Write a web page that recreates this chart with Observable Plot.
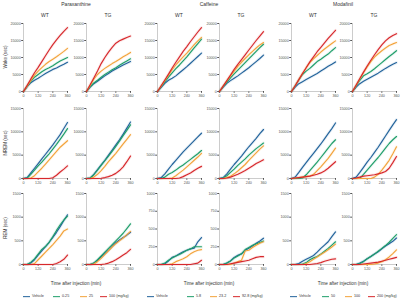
<!DOCTYPE html>
<html><head><meta charset="utf-8">
<script src="https://cdn.jsdelivr.net/npm/d3@7"></script>
<script src="https://cdn.jsdelivr.net/npm/@observablehq/plot@0.6"></script>
<style>
body{margin:0;background:#fff;}
#c{position:relative;width:400px;height:299px;overflow:hidden;font-family:"Liberation Sans",Arial,sans-serif;color:#333;background:#fff;}
.t{position:absolute;white-space:nowrap;transform:translate(-50%,-50%);line-height:1;}
.r{position:absolute;white-space:nowrap;transform:translate(-50%,-50%) rotate(-90deg);line-height:1;}
.lg{position:absolute;white-space:nowrap;display:flex;align-items:center;font-size:3.7px;line-height:1;color:#333;transform:translateY(-50%);}
.sw{display:inline-block;width:7px;height:1.3px;margin-right:2px;}
.p{position:absolute;}
</style></head><body><div id="c"></div>
<script>
const minutes = [0,30,60,90,120,150,180,210,240,270,300,330,360];
const drugs = ["Paraxanthine","Caffeine","Modafinil"];
const genotypes = ["WT","TG"];
const states = ["Wake (sec)","NREM (sec)","REM (sec)"];
const seriesColors = ["#22639b","#1f9e6a","#f3a33b","#d7282c"];
const paraDoses = ["Vehicle","0.25","25","100 (mg/kg)"];
const cafDoses = ["Vehicle","5.8","23.2","92.8 (mg/kg)"];
const modDoses = ["Vehicle","50","100","200 (mg/kg)"];
const xTicks = [0,120,240,360];
const yTicksWake = [0,5000,10000,15000,20000];
const yTicksNREM = [0,5000,10000,15000];
const yTicksREM = [0,500,1000,1500];
const yTicksREMcaf = [0,250,500,750,1000];
const xLabel = "Time after injection (min)";

// each array: [Vehicle, dose1, dose2, dose3], values in sec at each of minutes
const paraWakeWT = [
 [0,1400,2600,3300,3900,4600,5300,5900,6500,6900,7500,8000,8600],
 [0,1500,3000,4200,5000,5800,6500,7000,7600,8300,9000,9500,10000],
 [0,1600,3200,4800,6000,7000,8000,8800,9500,10200,11000,11800,12700],
 [0,1800,3700,5500,7100,8800,10500,12200,13800,15200,16500,17700,18800]];
const paraWakeTG = [
 [0,1300,2300,3000,3800,4600,5300,6000,6600,7200,7800,8300,8800],
 [0,1400,2500,3300,4200,5000,5700,6400,7000,7700,8400,9000,9600],
 [0,1800,3600,5000,6000,6800,7500,8200,8800,9500,10200,10800,11500],
 [0,2000,4000,6000,8200,10000,11600,13000,14200,14900,15400,15900,16300]];
const cafWakeWT = [
 [0,1200,2400,3300,3900,4600,5500,6400,7300,8300,9300,10300,11300],
 [0,1400,2800,4200,5500,6700,7800,9000,10200,11500,12800,14100,15400],
 [0,1600,3200,4800,6400,7800,9000,10200,11300,12500,13800,14900,15900],
 [0,1700,3400,5100,6900,8600,10200,11800,13200,14700,16100,17500,18800]];
const cafWakeTG = [
 [0,1300,2400,3200,3900,4600,5400,6200,7000,7900,8800,9700,10700],
 [0,1400,2700,4000,5200,6300,7400,8500,9600,10700,11800,12900,13900],
 [0,1600,3100,4600,6000,7400,8600,9700,10800,11800,12800,13700,14400],
 [0,1600,3200,4800,6500,8000,9400,10800,12200,13600,15000,16300,17600]];
const modWakeWT = [
 [0,1300,2300,2900,3500,4100,4700,5300,6000,6700,7400,8000,8700],
 [0,1700,3400,5000,6000,6800,7800,8800,9500,10300,11000,12000,12900],
 [0,1700,3500,5300,7000,8500,9600,10600,11600,12500,13300,14100,14900],
 [0,1700,3500,5300,7000,8700,10200,11700,13000,14300,15600,16800,18000]];
const modWakeTG = [
 [0,1300,2300,3000,3600,4200,4800,5400,6100,6800,7400,8000,8500],
 [0,1600,3300,4600,5200,5900,6700,7600,8500,9400,10300,11100,12000],
 [0,1800,3700,5500,7200,8800,10100,11100,12000,12800,13500,14000,14400],
 [0,1900,3800,5700,7500,9200,10800,12300,13700,14900,15800,16500,17000]];

const paraNremWT = [
 [0,200,1200,2200,3200,4200,5200,6200,7200,8300,9400,10700,12000],
 [0,100,900,1800,2700,3500,4400,5300,6300,7300,8400,9500,10700],
 [0,0,100,600,1400,2200,3100,4000,4900,5800,6700,7400,8100],
 [0,0,0,0,0,0,0,0,150,700,1400,2000,2700]];
const paraNremTG = [
 [0,100,900,1900,2900,3900,5000,6100,7200,8300,9500,10800,12100],
 [0,100,800,1800,2800,3800,4800,5800,6900,8000,9200,10300,11500],
 [0,0,300,900,1700,2600,3600,4500,5400,6400,7400,8400,9400],
 [0,0,0,0,50,200,400,700,1100,1700,2500,3600,4800]];
const cafNremWT = [
 [0,200,1000,2000,3000,3900,4800,5700,6500,7300,8100,8900,9700],
 [0,0,300,900,1300,1800,2400,2900,3500,4100,4700,5300,6000],
 [0,0,0,0,100,600,1200,1800,2500,3200,3900,4600,5400],
 [0,0,0,0,0,0,100,400,800,1200,1700,2200,2600]];
const cafNremTG = [
 [0,200,1000,2000,3000,3900,4800,5800,6800,7700,8600,9600,10500],
 [0,100,600,1300,2000,2800,3500,4200,5000,5700,6400,7000,7600],
 [0,0,200,500,1000,1600,2300,3000,3900,4700,5500,6300,7000],
 [0,0,100,300,600,900,1300,1700,2200,2700,3200,3600,4000]];
const modNremWT = [
 [0,300,1300,2400,3400,4400,5400,6400,7400,8500,9600,10700,11900],
 [0,0,0,100,800,1700,2600,3500,4500,5500,6500,7500,8300],
 [0,100,200,300,400,500,900,1700,2500,3400,4300,5400,6500],
 [0,100,200,300,400,500,700,900,1200,1600,2200,2900,3600]];
const modNremTG = [
 [0,300,1300,2400,3500,4500,5600,6700,7900,9100,10300,11500,12600],
 [0,0,100,900,1800,2700,3600,4500,5500,6500,7500,8300,9000],
 [0,0,0,0,0,0,300,900,1800,2800,3900,5300,6800],
 [0,100,300,500,600,700,800,1000,1200,1500,2200,3400,4700]];

const paraRemWT = [
 [0,0,30,100,200,290,380,470,570,680,800,930,1050],
 [0,0,50,120,220,320,380,470,590,720,840,940,1020],
 [0,0,0,20,100,180,260,340,420,510,600,710,750],
 [0,0,0,0,0,0,0,0,0,20,60,110,200]];
const paraRemTG = [
 [0,0,30,90,160,230,300,380,460,520,570,620,680],
 [0,0,30,100,180,260,340,420,500,580,660,760,860],
 [0,0,10,60,130,210,290,370,440,500,560,630,700],
 [0,0,0,0,0,10,30,60,100,150,200,250,320]];
const cafRemWT = [
 [0,0,10,50,100,120,150,180,200,220,230,320,380],
 [0,0,20,60,90,120,140,170,200,220,250,250,250],
 [0,0,0,0,10,40,60,80,110,150,180,200,210],
 [0,0,0,0,0,0,0,0,0,0,10,20,60]];
const cafRemTG = [
 [0,0,20,50,100,130,150,200,230,260,300,330,370],
 [0,0,20,50,90,120,150,210,240,270,290,310,330],
 [0,0,0,0,20,40,60,190,200,240,270,300,320],
 [0,0,0,10,20,30,40,50,60,80,100,110,110]];
const modRemWT = [
 [0,0,20,70,110,150,190,260,340,410,480,590,690],
 [0,0,0,10,40,100,140,170,220,280,340,410,480],
 [0,0,0,0,20,60,110,160,210,260,310,370,430],
 [0,0,0,0,0,0,10,20,40,70,90,110,120]];
const modRemTG = [
 [0,0,30,70,120,170,220,270,330,390,440,490,560],
 [0,0,20,60,120,170,220,280,340,400,470,550,630],
 [0,0,0,0,0,0,10,30,60,100,160,230,310],
 [0,0,0,10,20,30,40,50,70,90,110,130,150]];

const panelSets = [
  [paraWakeWT, paraNremWT, paraRemWT],
  [paraWakeTG, paraNremTG, paraRemTG],
  [cafWakeWT, cafNremWT, cafRemWT],
  [cafWakeTG, cafNremTG, cafRemTG],
  [modWakeWT, modNremWT, modRemWT],
  [modWakeTG, modNremTG, modRemTG]
];
const doseSets = [paraDoses, cafDoses, modDoses];

const colX = [23,86,157,219,291,352];
const panelW = 44;
const rowTop = [23,108,193];
const rowH = [68,70,71];
const ML = 22, MR = 8, MT = 4, MB = 10;

const c = document.getElementById("c");

function addText(cls, txt, x, y, size, extra) {
  const d = document.createElement("div");
  d.className = cls;
  d.textContent = txt;
  d.style.left = x + "px";
  d.style.top = y + "px";
  d.style.fontSize = size + "px";
  if (extra) Object.assign(d.style, extra);
  c.appendChild(d);
  return d;
}

for (let col = 0; col < 6; col++) {
  const drugIdx = Math.floor(col / 2);
  for (let row = 0; row < 3; row++) {
    const sets = panelSets[col][row];
    const rows = [];
    sets.forEach((vals, s) => vals.forEach((v, j) => rows.push({t: minutes[j], v, s: doseSets[drugIdx][s]})));
    let yMax, yTicks;
    if (row === 0) { yMax = 20000; yTicks = yTicksWake; }
    else if (row === 1) { yMax = 15000; yTicks = yTicksNREM; }
    else if (drugIdx === 1) { yMax = 1000; yTicks = yTicksREMcaf; }
    else { yMax = 1500; yTicks = yTicksREM; }
    const p = Plot.plot({
      width: ML + panelW + MR,
      height: MT + rowH[row] + MB,
      marginLeft: ML, marginRight: MR, marginTop: MT, marginBottom: MB,
      x: {domain: [0, 360], ticks: xTicks, tickSize: 1.8, tickPadding: 1, label: null, tickFormat: d => String(d)},
      y: {domain: [0, yMax], ticks: yTicks, tickSize: 1.8, tickPadding: 1, label: null, tickFormat: d => String(d)},
      color: {type: "ordinal", domain: doseSets[drugIdx], range: seriesColors},
      style: {fontSize: "3.7px", fontFamily: "Liberation Sans, Arial, sans-serif", color: "#555", background: "none", overflow: "visible"},
      marks: [
        Plot.ruleX([0], {stroke: "#aaa", strokeWidth: 0.6}),
        Plot.ruleY([0], {stroke: "#aaa", strokeWidth: 0.6}),
        Plot.lineY(rows, {x: "t", y: "v", z: "s", stroke: "s", strokeWidth: 3, strokeOpacity: 0.1}),
        Plot.lineY(rows, {x: "t", y: "v", z: "s", stroke: "s", strokeWidth: 1.15})
      ]
    });
    p.classList.add("p");
    p.style.left = (colX[col] - ML) + "px";
    p.style.top = (rowTop[row] - MT) + "px";
    c.appendChild(p);
  }
  addText("t", genotypes[col % 2], colX[col] + panelW / 2, 15, 5, {color: "#333"});
}

// drug titles, x labels, legends
const drugCenters = [76, 209, 343];
drugs.forEach((d, i) => {
  addText("t", d, drugCenters[i], 3.5, 5, {color: "#333"});
  addText("t", xLabel, drugCenters[i], 284, 4.6, {color: "#333"});
});
// row labels
const rowCenters = [57, 143, 228];
states.forEach((s, i) => addText("r", s, 6, rowCenters[i], 4.6, {color: "#333"}));

// legends
const legendX = [[23,53,80,100],[147,187,210,233],[290,322,345,368]];
doseSets.forEach((doses, i) => {
  doses.forEach((lab, j) => {
    const d = document.createElement("div");
    d.className = "lg";
    d.style.left = legendX[i][j] + "px";
    d.style.top = "296.5px";
    const sw = document.createElement("span");
    sw.className = "sw";
    sw.style.background = seriesColors[j];
    d.appendChild(sw);
    const tx = document.createElement("span");
    tx.textContent = lab;
    d.appendChild(tx);
    c.appendChild(d);
  });
});
</script></body></html>
